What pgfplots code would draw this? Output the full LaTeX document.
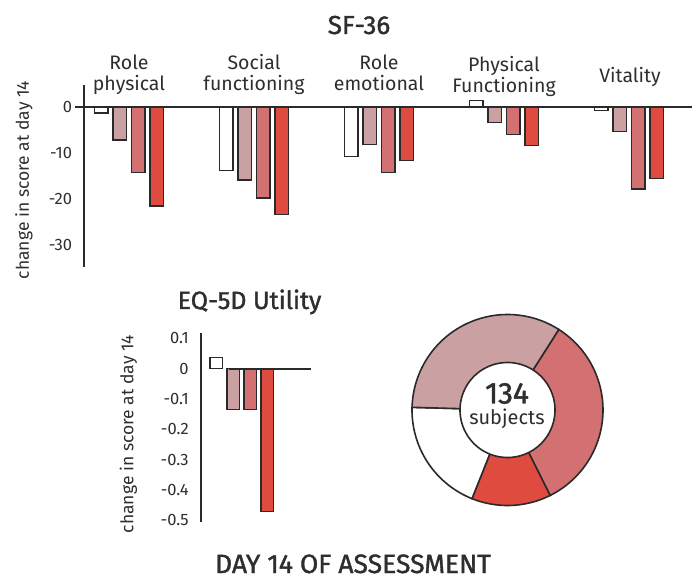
\documentclass[border=0pt]{standalone}
\usepackage{pgfplots}
\pgfplotsset{compat=1.18}
\usepackage{fontspec}
\setmainfont{Fira Sans}
\newfontface\medfont[FakeBold=1.4]{Fira Sans}
\definecolor{txt}{HTML}{2E2E2E}
\definecolor{edge}{HTML}{2A2A2A}
\definecolor{cA}{HTML}{FFFFFF}
\definecolor{cB}{HTML}{CBA0A2}
\definecolor{cC}{HTML}{D27072}
\definecolor{cD}{HTML}{E04B40}
\begin{document}
\begin{tikzpicture}
\path[use as bounding box] (0,0) rectangle (699pt,579pt);
% ---------------- SF-36 ----------------
\begin{axis}[
  at={(84pt,312pt)}, anchor=south west,
  scale only axis, width=608pt, height=182pt,
  xmin=-0.36, xmax=4.504, ymin=-34.78, ymax=4.78,
  axis y line=left, axis x line=none,
  y axis line style={-, line width=1.8pt, color=edge},
  ytick={-30,-20,-10,0}, yticklabels={-30,-20,-10,0},
  major tick length=0pt, xtick=\empty,
  yticklabel style={font=\fontsize{16.5}{18}\selectfont, color=txt, xshift=-8.5pt},
  clip=false,
]
\addplot[ybar, bar width=13.4pt, bar shift=-27.6pt, fill=cA, draw=edge, line width=1.3pt]
  coordinates {(0,-1.3) (1,-13.8) (2,-10.8) (3,1.4) (4,-0.7)};
\addplot[ybar, bar width=13.4pt, bar shift=-9.2pt, fill=cB, draw=edge, line width=1.3pt]
  coordinates {(0,-7.2) (1,-15.9) (2,-8.1) (3,-3.3) (4,-5.3)};
\addplot[ybar, bar width=13.4pt, bar shift=9.2pt, fill=cC, draw=edge, line width=1.3pt]
  coordinates {(0,-14.3) (1,-19.8) (2,-14.3) (3,-6.0) (4,-17.8)};
\addplot[ybar, bar width=13.4pt, bar shift=27.6pt, fill=cD, draw=edge, line width=1.3pt]
  coordinates {(0,-21.5) (1,-23.3) (2,-11.6) (3,-8.3) (4,-15.6)};
\addplot[sharp plot, no marks, draw=edge, line width=1.8pt]
  coordinates {(-0.432,0) (4.504,0)};
\end{axis}
% ---------------- EQ-5D ----------------
\begin{axis}[
  at={(201pt,57.3pt)}, anchor=south west,
  scale only axis, width=109.7pt, height=188.4pt,
  xmin=-40.7, xmax=69, ymin=-0.505, ymax=0.117,
  axis y line=left, axis x line=none,
  y axis line style={-, line width=1.8pt, color=edge},
  ytick={-0.5,-0.4,-0.3,-0.2,-0.1,0,0.1},
  yticklabels={-0.5,-0.4,-0.3,-0.2,-0.1,0,0.1},
  major tick length=0pt, xtick=\empty,
  yticklabel style={font=\fontsize{16.5}{18}\selectfont, color=txt, xshift=-8.8pt},
  clip=false,
]
\addplot[ybar, bar width=12.3pt, bar shift=-25.5pt, fill=cA, draw=edge, line width=1.3pt]
  coordinates {(0,0.036)};
\addplot[ybar, bar width=12.3pt, bar shift=-8.5pt, fill=cB, draw=edge, line width=1.3pt]
  coordinates {(0,-0.134)};
\addplot[ybar, bar width=12.3pt, bar shift=8.5pt, fill=cC, draw=edge, line width=1.3pt]
  coordinates {(0,-0.134)};
\addplot[ybar, bar width=12.3pt, bar shift=25.5pt, fill=cD, draw=edge, line width=1.3pt]
  coordinates {(0,-0.472)};
\addplot[sharp plot, no marks, draw=edge, line width=1.8pt]
  coordinates {(-13,0) (69,0)};
\end{axis}
% ---------------- donut ----------------
\pgfmathsetmacro\aA{178.4}
\pgfmathsetmacro\aB{\aA+26/134*360}
\pgfmathsetmacro\aC{\aB+18/134*360}
\pgfmathsetmacro\aD{\aC+45/134*360}
\pgfmathsetmacro\aE{\aD+45/134*360}
\begin{axis}[
  at={(407.5pt,69pt)}, anchor=south west,
  scale only axis, width=200pt, height=200pt,
  xmin=-100, xmax=100, ymin=-100, ymax=100,
  hide axis, clip=false,
]
\addplot[fill=cA, draw=edge, line width=1.6pt, domain=\aA:\aB, samples=40, variable=\t]
  ({95.5*cos(\t)},{95.5*sin(\t)}) -- (axis cs:0,0) -- cycle;
\addplot[fill=cD, draw=edge, line width=1.6pt, domain=\aB:\aC, samples=40, variable=\t]
  ({95.5*cos(\t)},{95.5*sin(\t)}) -- (axis cs:0,0) -- cycle;
\addplot[fill=cC, draw=edge, line width=1.6pt, domain=\aC:\aD, samples=60, variable=\t]
  ({95.5*cos(\t)},{95.5*sin(\t)}) -- (axis cs:0,0) -- cycle;
\addplot[fill=cB, draw=edge, line width=1.6pt, domain=\aD:\aE, samples=60, variable=\t]
  ({95.5*cos(\t)},{95.5*sin(\t)}) -- (axis cs:0,0) -- cycle;
\addplot[fill=white, draw=edge, line width=1.6pt, domain=0:360, samples=120, variable=\t]
  ({47.5*cos(\t)},{47.5*sin(\t)}) -- cycle;
\end{axis}
% ---------------- texts ----------------
\begin{scope}[color=txt]
\node[anchor=base, font=\medfont\fontsize{26}{26}\selectfont] at (359pt,545pt) {SF-36};
\node[anchor=base, font=\fontsize{19.5}{20}\selectfont] at (129pt,509pt) {Role};
\node[anchor=base, font=\fontsize{19.5}{20}\selectfont] at (129pt,488pt) {physical};
\node[anchor=base, font=\fontsize{19.5}{20}\selectfont] at (254pt,509pt) {Social};
\node[anchor=base, font=\fontsize{19.5}{20}\selectfont] at (254pt,488pt) {functioning};
\node[anchor=base, font=\fontsize{19.5}{20}\selectfont] at (379pt,509pt) {Role};
\node[anchor=base, font=\fontsize{19.5}{20}\selectfont] at (379pt,488pt) {emotional};
\node[anchor=base, font=\fontsize{19.5}{20}\selectfont] at (504pt,507pt) {Physical};
\node[anchor=base, font=\fontsize{19.5}{20}\selectfont] at (504pt,486pt) {Functioning};
\node[anchor=base, font=\fontsize{19.5}{20}\selectfont] at (630pt,496pt) {Vitality};
\node[rotate=90, font=\fontsize{17.5}{18}\selectfont] at (24pt,399pt) {change in score at day 14};
\node[rotate=90, font=\fontsize{17.5}{18}\selectfont] at (128.3pt,145pt) {change in score at day 14};
\node[anchor=base, font=\medfont\fontsize{25}{25}\selectfont] at (249.5pt,270pt) {EQ-5D Utility};
\node[anchor=base, font=\medfont\fontsize{26.5}{26.5}\selectfont, inner sep=0pt] at (353pt,6pt) {DAY 14 OF ASSESSMENT};
\node[anchor=base, font=\medfont\fontsize{30}{30}\selectfont, inner sep=0pt] at (507pt,175.5pt) {134};
\node[anchor=base, font=\fontsize{20}{20}\selectfont, inner sep=0pt] at (507pt,154.5pt) {subjects};
\end{scope}
\end{tikzpicture}
\end{document}
